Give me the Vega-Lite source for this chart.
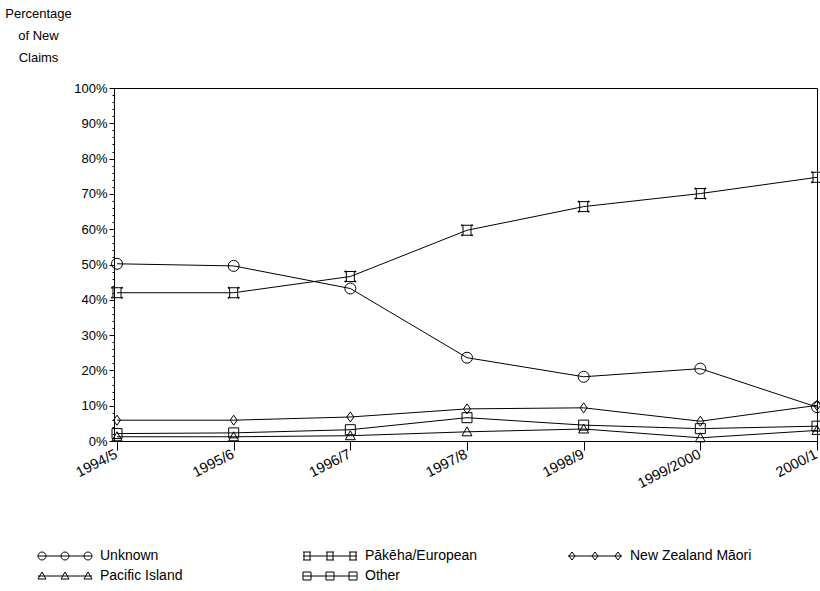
{
  "$schema": "https://vega.github.io/schema/vega-lite/v6.json",
  "width": 703,
  "height": 353,
  "autosize": {"type": "none"},
  "padding": {"left": 114, "top": 88, "right": 3, "bottom": 150},
  "background": "white",
  "config": {
    "font": "Liberation Sans",
    "view": {"stroke": "black", "strokeWidth": 1},
    "axis": {
      "labelFont": "Liberation Sans",
      "labelFontSize": 13,
      "labelColor": "black",
      "titleFont": "Liberation Sans",
      "titleFontSize": 13,
      "titleFontWeight": "normal",
      "titleColor": "black",
      "domainColor": "black",
      "tickColor": "black",
      "grid": false
    }
  },
  "data": {
    "values": [
      {"period": "1994/5", "group": "Unknown", "value": 50.2},
      {"period": "1995/6", "group": "Unknown", "value": 49.6},
      {"period": "1996/7", "group": "Unknown", "value": 43.2},
      {"period": "1997/8", "group": "Unknown", "value": 23.6},
      {"period": "1998/9", "group": "Unknown", "value": 18.2},
      {"period": "1999/2000", "group": "Unknown", "value": 20.5},
      {"period": "2000/1", "group": "Unknown", "value": 9.6},
      {"period": "1994/5", "group": "Pākēha/European", "value": 42.0},
      {"period": "1995/6", "group": "Pākēha/European", "value": 42.0},
      {"period": "1996/7", "group": "Pākēha/European", "value": 46.6},
      {"period": "1997/8", "group": "Pākēha/European", "value": 59.7},
      {"period": "1998/9", "group": "Pākēha/European", "value": 66.4},
      {"period": "1999/2000", "group": "Pākēha/European", "value": 70.1},
      {"period": "2000/1", "group": "Pākēha/European", "value": 74.7},
      {"period": "1994/5", "group": "New Zealand Māori", "value": 5.9},
      {"period": "1995/6", "group": "New Zealand Māori", "value": 5.9},
      {"period": "1996/7", "group": "New Zealand Māori", "value": 6.8},
      {"period": "1997/8", "group": "New Zealand Māori", "value": 9.1},
      {"period": "1998/9", "group": "New Zealand Māori", "value": 9.4},
      {"period": "1999/2000", "group": "New Zealand Māori", "value": 5.6},
      {"period": "2000/1", "group": "New Zealand Māori", "value": 10.1},
      {"period": "1994/5", "group": "Pacific Island", "value": 1.2},
      {"period": "1995/6", "group": "Pacific Island", "value": 1.2},
      {"period": "1996/7", "group": "Pacific Island", "value": 1.5},
      {"period": "1997/8", "group": "Pacific Island", "value": 2.6},
      {"period": "1998/9", "group": "Pacific Island", "value": 3.4},
      {"period": "1999/2000", "group": "Pacific Island", "value": 0.9},
      {"period": "2000/1", "group": "Pacific Island", "value": 3.0},
      {"period": "1994/5", "group": "Other", "value": 2.1},
      {"period": "1995/6", "group": "Other", "value": 2.3},
      {"period": "1996/7", "group": "Other", "value": 3.2},
      {"period": "1997/8", "group": "Other", "value": 6.6},
      {"period": "1998/9", "group": "Other", "value": 4.5},
      {"period": "1999/2000", "group": "Other", "value": 3.5},
      {"period": "2000/1", "group": "Other", "value": 4.2}
    ]
  },
  "encoding": {
    "x": {
      "field": "period",
      "type": "ordinal",
      "sort": null,
      "scale": {"type": "point", "padding": 0, "range": [3, 703]},
      "axis": {
        "title": null,
        "labelAngle": -27,
        "labelAlign": "right",
        "labelBaseline": "top",
        "labelPadding": -3,
        "labelOffset": -4,
        "labelFontSize": 14.5,
        "tickSize": 9,
        "domain": true
      }
    },
    "y": {
      "field": "value",
      "type": "quantitative",
      "scale": {"domain": [0, 100], "nice": false},
      "axis": {
        "values": [0,2,4,6,8,10,12,14,16,18,20,22,24,26,28,30,32,34,36,38,40,42,44,46,48,50,52,54,56,58,60,62,64,66,68,70,72,74,76,78,80,82,84,86,88,90,92,94,96,98,100],
        "labelExpr": "datum.value % 10 === 0 ? datum.value + '%' : ''",
        "tickSize": {"condition": {"test": "datum.value % 10 === 0", "value": 5}, "value": 2},
        "labelPadding": 2,
        "labelBaseline": "middle",
        "title": ["Percentage", "of New", "Claims"],
        "titleAngle": 0,
        "titleAlign": "center",
        "titleBaseline": "top",
        "titleX": -76,
        "titleY": -81,
        "titleLineHeight": 22
      }
    }
  },
  "resolve": {"scale": {"shape": "independent"}},
  "layer": [
    {
      "mark": {"type": "line", "color": "black", "strokeWidth": 1},
      "encoding": {"detail": {"field": "group"}}
    },
    {
      "mark": {"type": "point", "filled": false, "color": "black", "strokeWidth": 1, "size": 4, "opacity": 1},
      "encoding": {
        "shape": {
          "field": "group",
          "type": "nominal",
          "scale": {
            "domain": ["Unknown", "Pākēha/European", "New Zealand Māori", "Pacific Island", "Other"],
            "range": [
              "M-5.5,0A5.5,5.5 0 1,0 5.5,0A5.5,5.5 0 1,0 -5.5,0Z",
              "M-6,-5L6,-5M-6,5L6,5M-5,-6L-5,-4M5,-6L5,-4M-5,6L-5,4M5,6L5,4M-4,-5L-4,5M4,-5L4,5",
              "M0,-5L3.5,0L0,5L-3.5,0Z",
              "M0,-5L5,4L-5,4Z",
              "M-5,-5H5V5H-5Z"
            ]
          },
          "legend": null
        }
      }
    },
    {
      "mark": {"type": "point", "filled": false, "color": "black", "strokeWidth": 1, "size": 4, "opacity": 0},
      "encoding": {
        "shape": {
          "field": "group",
          "type": "nominal",
          "scale": {
            "domain": ["Unknown", "Pākēha/European", "New Zealand Māori", "Pacific Island", "Other"],
            "range": [
              "M0,0H54M0,0A4,4 0 1,0 8,0A4,4 0 1,0 0,0M23,0A4,4 0 1,0 31,0A4,4 0 1,0 23,0M46,0A4,4 0 1,0 54,0A4,4 0 1,0 46,0",
              "M0,0H54M0,-4H8M0,4H8M1,-4V4M7,-4V4M23,-4H31M23,4H31M24,-4V4M30,-4V4M46,-4H54M46,4H54M47,-4V4M53,-4V4",
              "M0,0H54M4,-4L7,0L4,4L1,0ZM27,-4L30,0L27,4L24,0ZM50,-4L53,0L50,4L47,0Z",
              "M0,0H54M4,-4L8,3L0,3ZM27,-4L31,3L23,3ZM50,-4L54,3L46,3Z",
              "M0,0H54M0,-4H8V4H0ZM23,-4H31V4H23ZM46,-4H54V4H46Z"
            ]
          },
          "legend": {
            "orient": "none",
            "legendX": -83,
            "legendY": 461,
            "direction": "horizontal",
            "columns": 3,
            "title": null,
            "gridAlign": "all",
            "columnPadding": 74,
            "rowPadding": 6,
            "symbolSize": 4,
            "symbolOpacity": 1,
            "symbolStrokeWidth": 1,
            "symbolStrokeColor": "black",
            "symbolFillColor": "transparent",
            "labelOffset": 55,
            "labelFontSize": 14,
            "labelFont": "Liberation Sans",
            "labelColor": "black",
            "labelLimit": 0
          }
        }
      }
    }
  ]
}
